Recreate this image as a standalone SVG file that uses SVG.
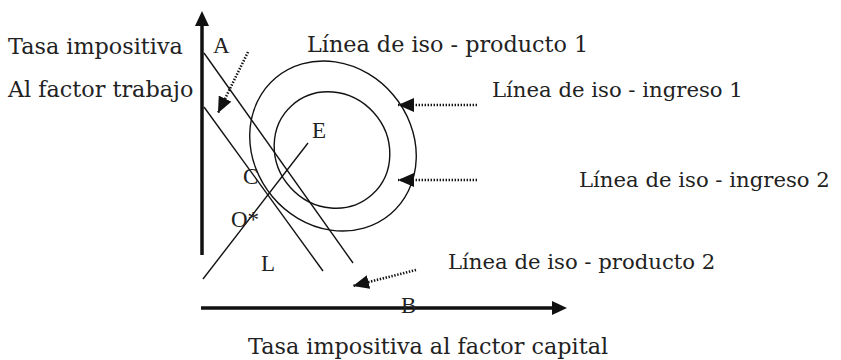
<svg xmlns="http://www.w3.org/2000/svg" width="841" height="360" viewBox="0 0 841 360">
<defs>
<style>
.t{font-family:"DejaVu Serif","Liberation Serif",serif;font-size:22.3px;fill:#222}
.s{font-size:21.2px}
.l{font-family:"Liberation Serif","Times New Roman",serif;font-size:23px;fill:#222}
.ax{stroke:#111;stroke-width:3.5;fill:none}
.thin{stroke:#111;stroke-width:1.4;fill:none}
.dot{stroke:#111;stroke-width:2.6;stroke-dasharray:1.4 1.6;fill:none}
</style>
<marker id="dh" viewBox="0 0 16 14" refX="16" refY="7" markerWidth="16" markerHeight="14" markerUnits="userSpaceOnUse" orient="auto">
<path d="M0,0 L16,7 L0,14 Z" fill="#111"/>
</marker>
</defs>
<rect width="841" height="360" fill="#fff"/>
<g id="axes">
<line class="ax" x1="202" y1="255" x2="202" y2="24"/>
<path d="M202,11 L195,26 L209,26 Z" fill="#111"/>
<line class="ax" x1="201" y1="308" x2="554" y2="308"/>
<path d="M567,308 L552,301 L552,315 Z" fill="#111"/>
</g>
<g id="curves">
<ellipse id="iso-ingreso-1" class="thin" cx="333" cy="146" rx="89" ry="79" transform="rotate(50 333 146)"/>
<ellipse id="iso-ingreso-2" class="thin" cx="332" cy="150" rx="60" ry="56" transform="rotate(48 332 150)"/>
<line id="iso-producto-1" class="thin" x1="204" y1="53" x2="353" y2="263"/>
<line id="iso-producto-2" class="thin" x1="204" y1="107" x2="323" y2="271"/>
<line id="ray" class="thin" x1="203" y1="279" x2="308" y2="143"/>
</g>
<g id="connectors">
<line class="dot" x1="248" y1="52" x2="218" y2="113" marker-end="url(#dh)"/>
<line class="dot" x1="477" y1="105" x2="398" y2="105" marker-end="url(#dh)"/>
<line class="dot" x1="477" y1="180" x2="398" y2="180" marker-end="url(#dh)"/>
<line class="dot" x1="416" y1="270" x2="353" y2="286" marker-end="url(#dh)"/>
</g>
<g id="labels">
<text class="t" x="8" y="54">Tasa impositiva</text>
<text class="t" x="8" y="97">Al factor trabajo</text>
<text class="t" x="307" y="52">Línea de iso - producto 1</text>
<text class="t s" x="492" y="97">Línea de iso - ingreso 1</text>
<text class="t s" x="579" y="187">Línea de iso - ingreso 2</text>
<text class="t s" x="448" y="269">Línea de iso - producto 2</text>
<text class="t" x="248" y="354">Tasa impositiva al factor capital</text>
<text class="l" x="213" y="53">A</text>
<text class="l" x="312" y="138">E</text>
<text class="l" x="243" y="184">C</text>
<text class="l" x="231" y="227">O*</text>
<text class="l" x="261" y="271">L</text>
<text class="l" x="401" y="313">B</text>
</g>
</svg>
